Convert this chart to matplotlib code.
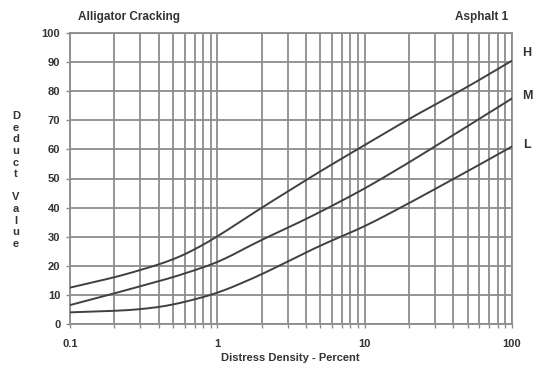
import numpy as np
import matplotlib
matplotlib.use("Agg")
import matplotlib.pyplot as plt
from matplotlib.ticker import LogLocator, FixedLocator, NullFormatter

# distress density (percent) and deduct values
density = [0.1, 0.2, 0.3, 0.5, 0.7, 1, 2, 3, 5, 10, 20, 50, 100]
high    = [12.5, 16, 18.5, 22, 25.5, 30, 40, 45.5, 52.5, 61.5, 70.5, 81.5, 90.5]
medium  = [6.5, 10.5, 13, 16, 18.5, 21, 29, 33, 38.5, 46.5, 55.5, 68, 77.5]
low     = [4, 4.5, 5, 6.5, 8.5, 10.5, 17, 21.5, 27, 33.5, 41.5, 52.5, 61]
curve_names = ["H", "M", "L"]
label_y = [93, 78.5, 61.5]     # where the H/M/L letters sit

GRID = "#8c8c8c"
INK = "#333333"
FONT = "Liberation Sans"

fig = plt.figure(figsize=(5.53, 3.70), dpi=100)
fig.patch.set_facecolor("white")
ax = fig.add_axes([70/553, 46/370, 442/553, 291/370])

# light smoothing of the read points in log-x space
lx = np.log10(density)
xs = np.linspace(lx[0], lx[-1], 300)
for vals in (high, medium, low):
    ys = np.interp(xs, lx, vals)
    ys = np.convolve(np.pad(ys, 12, mode="reflect", reflect_type="odd"),
                     np.ones(25)/25, mode="valid")
    ax.plot(10**xs, ys, color="#404040", lw=1.4, zorder=3)

ax.set_xscale("log")
ax.set_xlim(0.1, 100)
ax.set_ylim(0, 100)
ax.xaxis.set_major_locator(FixedLocator([0.1, 1, 10, 100]))
ax.xaxis.set_minor_locator(LogLocator(base=10, subs=np.arange(2, 10)))
ax.xaxis.set_minor_formatter(NullFormatter())
ax.set_xticklabels(["0.1", "1", "10", "100"])
ax.set_yticks(np.arange(0, 101, 10))

ax.grid(True, which="both", axis="x", color=GRID, lw=1.3)
ax.grid(True, which="major", axis="y", color=GRID, lw=1.3)
for sp in ax.spines.values():
    sp.set_color(GRID); sp.set_linewidth(1.3)

ax.tick_params(axis="both", which="both", color=GRID, length=3, width=1.0,
               direction="out", labelsize=8, labelcolor=INK, pad=4)
ax.tick_params(axis="x", which="major", pad=8)
for lab in ax.get_xticklabels() + ax.get_yticklabels():
    lab.set_fontfamily(FONT); lab.set_fontweight("bold")

# titles and labels
fig.text(78/553, 1 - 17/370, "Alligator Cracking", ha="left", va="center",
         fontsize=8.5, fontweight="bold", color=INK, family=FONT)
fig.text(508/553, 1 - 17/370, "Asphalt 1", ha="right", va="center",
         fontsize=8.5, fontweight="bold", color=INK, family=FONT)
fig.text(290/553, 1 - 358/370, "Distress Density - Percent", ha="center",
         va="center", fontsize=8, fontweight="bold", color=INK, family=FONT)
fig.text(16/553, 1 - 180/370, "\n".join("Deduct Value"), ha="center",
         va="center", fontsize=8, fontweight="bold", color=INK, family=FONT,
         linespacing=1.2)

# curve labels at the right end
for name, yv in zip(curve_names, label_y):
    ax.text(1.034, yv / 100, name, transform=ax.transAxes,
            ha="center", va="center", fontsize=9, fontweight="bold",
            color=INK, family=FONT)

fig.savefig("out.png", dpi=100, facecolor="white")
